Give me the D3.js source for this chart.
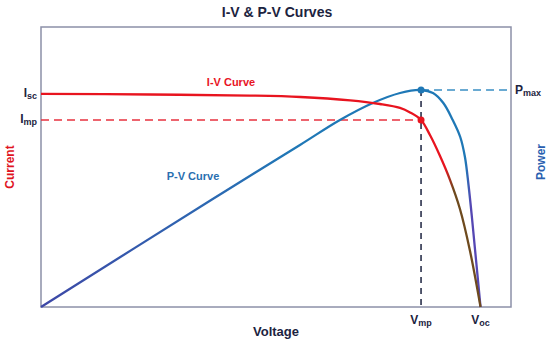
<!DOCTYPE html>
<html>
<head>
<meta charset="utf-8">
<script src="https://cdn.jsdelivr.net/npm/d3@7"></script>
<style>
  body { margin: 0; background: #fff; }
  text { font-family: "Liberation Sans", Arial, sans-serif; font-weight: bold; }
</style>
</head>
<body>
<div id="chart"></div>
<script>
// values (volts, amps, watts)
var ivVoltage = [0, 11.6, 22.2, 27.6, 32.9, 36.06, 38.19, 39.26, 40.43, 41.38, 42.45, 43.51, 44.57, 45.64, 46.76];
var ivCurrent = [7.61, 7.59, 7.55, 7.5, 7.38, 7.25, 7.11, 6.95, 6.68, 6.14, 5.39, 4.54, 3.5, 2.0, 0];

var pvVoltage = [0, 18.1, 27.55, 31.8, 35.3, 38.2, 40.43, 41.7, 42.8, 43.8, 44.6, 45.1, 45.48, 45.85, 46.28, 46.76];
var pvPower = [0, 133.75, 202.5, 233.75, 255, 267.5, 271.25, 267.5, 255, 233.75, 212.5, 187.5, 152.5, 111.25, 58.75, 0];

var Vmp = 40.43, Voc = 46.76, Isc = 7.61, Imp = 6.68, Pmax = 271.25;

var w = 550, h = 346;
var plotLeft = 41, plotRight = 511, plotTop = 27, plotBottom = 307;

var svg = d3.select("#chart").append("svg")
  .attr("width", w)
  .attr("height", h);

var x = d3.scaleLinear().domain([0, 50]).range([plotLeft, plotRight]);
var yI = d3.scaleLinear().domain([0, 10]).range([plotBottom, plotTop]);
var yP = d3.scaleLinear().domain([0, 350]).range([plotBottom, plotTop]);

function frac(v) { return (x(v) - plotLeft) / (plotRight - plotLeft); }

// gradients to mimic the colour shifts near the bottom of the curves
var defs = svg.append("defs");
var gIV = defs.append("linearGradient").attr("id", "gIV")
  .attr("gradientUnits", "userSpaceOnUse")
  .attr("x1", plotLeft).attr("x2", plotRight).attr("y1", 0).attr("y2", 0);
gIV.append("stop").attr("offset", frac(43.0)).attr("stop-color", "#e8141f");
gIV.append("stop").attr("offset", frac(43.9)).attr("stop-color", "#6e4a1e");
gIV.append("stop").attr("offset", 1).attr("stop-color", "#6e4a1e");

var gPV = defs.append("linearGradient").attr("id", "gPV")
  .attr("gradientUnits", "userSpaceOnUse")
  .attr("x1", plotLeft).attr("x2", plotRight).attr("y1", 0).attr("y2", 0);
gPV.append("stop").attr("offset", 0).attr("stop-color", "#3d47a6");
gPV.append("stop").attr("offset", frac(20)).attr("stop-color", "#2a6cb3");
gPV.append("stop").attr("offset", frac(27)).attr("stop-color", "#1f78b6");
gPV.append("stop").attr("offset", frac(45.2)).attr("stop-color", "#1f78b6");
gPV.append("stop").attr("offset", frac(45.7)).attr("stop-color", "#5547b3");
gPV.append("stop").attr("offset", 1).attr("stop-color", "#5547b3");

// frame
svg.append("rect")
  .attr("x", plotLeft).attr("y", plotTop)
  .attr("width", plotRight - plotLeft).attr("height", plotBottom - plotTop)
  .attr("fill", "none")
  .attr("stroke", "#8c90a8")
  .attr("stroke-width", 1.5);

// title
svg.append("text")
  .attr("x", 277).attr("y", 17)
  .attr("text-anchor", "middle")
  .attr("font-size", 14)
  .attr("fill", "#1c2340")
  .text("I-V & P-V Curves");

// guide lines
svg.append("line")
  .attr("x1", plotLeft).attr("x2", x(Vmp))
  .attr("y1", yI(Imp)).attr("y2", yI(Imp))
  .attr("stroke", "#e8323f").attr("stroke-width", 1.5)
  .attr("stroke-dasharray", "8,5");

svg.append("line")
  .attr("x1", x(Vmp)).attr("x2", plotRight)
  .attr("y1", yP(Pmax)).attr("y2", yP(Pmax))
  .attr("stroke", "#3a8fc4").attr("stroke-width", 1.5)
  .attr("stroke-dasharray", "8,5");

svg.append("line")
  .attr("x1", x(Vmp)).attr("x2", x(Vmp))
  .attr("y1", yP(Pmax)).attr("y2", plotBottom)
  .attr("stroke", "#1c2340").attr("stroke-width", 1.5)
  .attr("stroke-dasharray", "6,5");

// curves
var ivLine = d3.line()
  .x(function(d, i) { return x(ivVoltage[i]); })
  .y(function(d) { return yI(d); })
  .curve(d3.curveCatmullRom.alpha(0.5));

var pvLine = d3.line()
  .x(function(d, i) { return x(pvVoltage[i]); })
  .y(function(d) { return yP(d); })
  .curve(d3.curveCatmullRom.alpha(0.5));

svg.append("path")
  .attr("d", pvLine(pvPower))
  .attr("fill", "none")
  .attr("stroke", "url(#gPV)")
  .attr("stroke-width", 2.3);

svg.append("path")
  .attr("d", ivLine(ivCurrent))
  .attr("fill", "none")
  .attr("stroke", "url(#gIV)")
  .attr("stroke-width", 2.3);

// max power points
svg.append("circle")
  .attr("cx", x(Vmp)).attr("cy", yP(Pmax)).attr("r", 3.5)
  .attr("fill", "#1f78b6");
svg.append("circle")
  .attr("cx", x(Vmp)).attr("cy", yI(Imp)).attr("r", 3.5)
  .attr("fill", "#e8141f");

// curve labels
svg.append("text")
  .attr("x", 231).attr("y", 86)
  .attr("text-anchor", "middle")
  .attr("font-size", 11)
  .attr("fill", "#e8141f")
  .text("I-V Curve");

svg.append("text")
  .attr("x", 193).attr("y", 180)
  .attr("text-anchor", "middle")
  .attr("font-size", 11)
  .attr("fill", "#2a6fb0")
  .text("P-V Curve");

// subscripted labels
function subLabel(px, py, anchor, main, sub) {
  var t = svg.append("text")
    .attr("x", px).attr("y", py)
    .attr("text-anchor", anchor)
    .attr("fill", "#1c2340")
    .attr("font-size", 12);
  t.append("tspan").text(main);
  t.append("tspan").attr("font-size", 9).attr("dy", 2).text(sub);
  return t;
}

subLabel(37, yI(Isc) + 3, "end", "I", "sc");
subLabel(37, yI(Imp) + 3, "end", "I", "mp");
subLabel(515, yP(Pmax) + 4, "start", "P", "max");
subLabel(x(Vmp), 324, "middle", "V", "mp");
subLabel(x(Voc), 324, "middle", "V", "oc");

// axis titles
svg.append("text")
  .attr("x", 276).attr("y", 336)
  .attr("text-anchor", "middle")
  .attr("font-size", 13)
  .attr("fill", "#1c2340")
  .text("Voltage");

svg.append("text")
  .attr("transform", "translate(14,167) rotate(-90)")
  .attr("text-anchor", "middle")
  .attr("font-size", 12)
  .attr("fill", "#e0141f")
  .text("Current");

svg.append("text")
  .attr("transform", "translate(545,162) rotate(-90)")
  .attr("text-anchor", "middle")
  .attr("font-size", 12)
  .attr("fill", "#2a5fb0")
  .text("Power");
</script>
</body>
</html>
